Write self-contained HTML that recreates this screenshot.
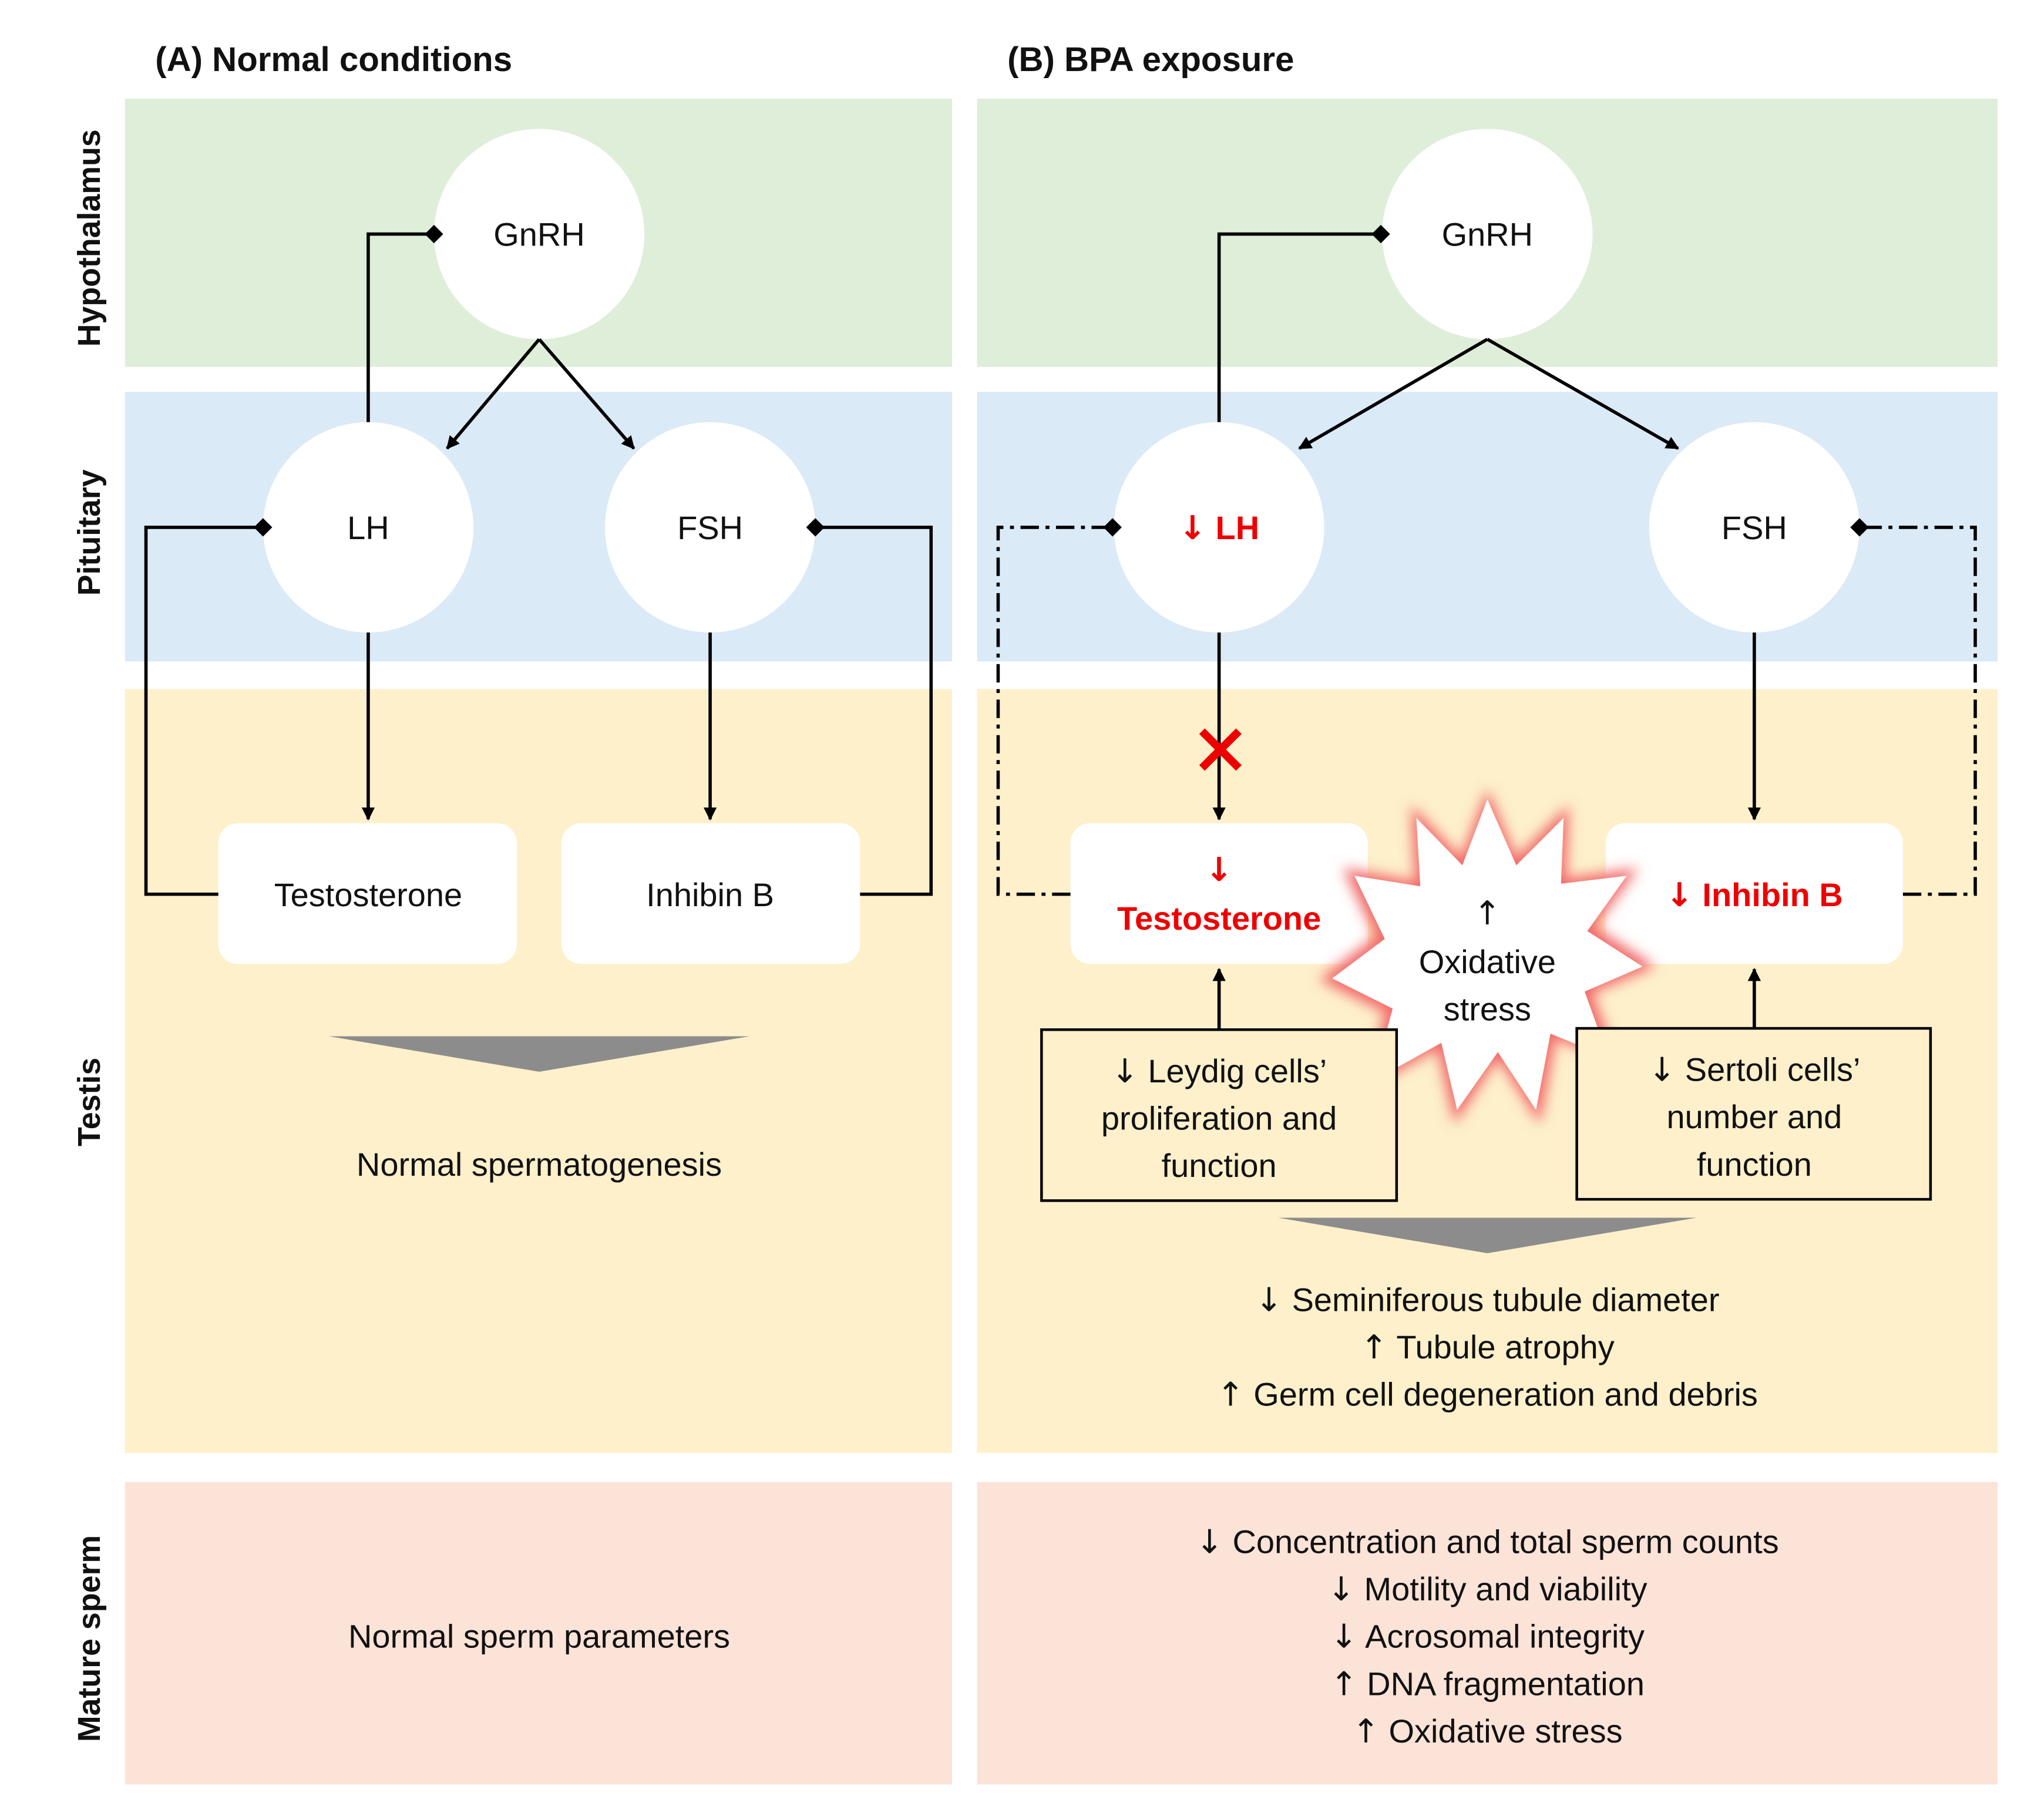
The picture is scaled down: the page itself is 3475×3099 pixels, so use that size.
<!DOCTYPE html>
<html><head><meta charset="utf-8"><style>
html,body{margin:0;padding:0;background:#fff}
svg{display:block}
text{font-family:"Liberation Sans",sans-serif;fill:#111}
.a{font-family:"DejaVu Sans",sans-serif}
</style></head><body>
<svg width="3475" height="3099" viewBox="0 0 1552 1384" preserveAspectRatio="none" xmlns="http://www.w3.org/2000/svg">
<defs>
<marker id="ah" markerWidth="10" markerHeight="10" refX="9" refY="5" orient="auto" markerUnits="userSpaceOnUse"><path d="M0,0 L10,5 L0,10 z" fill="#000"/></marker>
<marker id="dm" markerWidth="14" markerHeight="14" refX="7" refY="7" orient="auto" markerUnits="userSpaceOnUse"><path d="M0,7 L7,0 L14,7 L7,14 z" fill="#000"/></marker>
<filter id="glow" x="-30%" y="-30%" width="160%" height="160%"><feGaussianBlur stdDeviation="5"/></filter>
</defs>
<text x="118" y="54" font-size="26" font-weight="bold">(A) Normal conditions</text>
<text x="766" y="54" font-size="26" font-weight="bold">(B) BPA exposure</text>
<rect x="95" y="75" width="629" height="204" fill="#dfeed9"/>
<rect x="743" y="75" width="776" height="204" fill="#dfeed9"/>
<rect x="95" y="298" width="629" height="205" fill="#daeaf7"/>
<rect x="743" y="298" width="776" height="205" fill="#daeaf7"/>
<rect x="95" y="524" width="629" height="581" fill="#fdf0cb"/>
<rect x="743" y="524" width="776" height="581" fill="#fdf0cb"/>
<rect x="95" y="1127" width="629" height="230" fill="#fce3d7"/>
<rect x="743" y="1127" width="776" height="230" fill="#fce3d7"/>
<g font-size="24" font-weight="bold" text-anchor="middle">
<text transform="translate(76,181) rotate(-90)">Hypothalamus</text>
<text transform="translate(76,405) rotate(-90)">Pituitary</text>
<text transform="translate(76,838) rotate(-90)">Testis</text>
<text transform="translate(76,1246) rotate(-90)">Mature sperm</text>
</g>
<g fill="#fff">
<circle cx="410" cy="178" r="80"/><circle cx="280" cy="401" r="80"/><circle cx="540" cy="401" r="80"/>
<circle cx="1131" cy="178" r="80"/><circle cx="927" cy="401" r="80"/><circle cx="1334" cy="401" r="80"/>
<rect x="166" y="626" width="227" height="107" rx="15"/>
<rect x="427" y="626" width="227" height="107" rx="15"/>
<rect x="814" y="626" width="226" height="107" rx="15"/>
<rect x="1221" y="626" width="226" height="107" rx="15"/>
</g>
<g stroke="#000" stroke-width="2.5" fill="none">
<polyline points="280,321 280,178 330,178" marker-end="url(#dm)"/>
<line x1="410" y1="258" x2="340" y2="341" marker-end="url(#ah)"/>
<line x1="410" y1="258" x2="482" y2="341" marker-end="url(#ah)"/>
<line x1="280" y1="481" x2="280" y2="623" marker-end="url(#ah)"/>
<line x1="540" y1="481" x2="540" y2="623" marker-end="url(#ah)"/>
<polyline points="166,680 111,680 111,401 200,401" marker-end="url(#dm)"/>
<polyline points="654,680 708,680 708,401 620,401" marker-end="url(#dm)"/>
<polyline points="927,321 927,178 1050,178" marker-end="url(#dm)"/>
<line x1="1131" y1="258" x2="988" y2="341" marker-end="url(#ah)"/>
<line x1="1131" y1="258" x2="1276" y2="341" marker-end="url(#ah)"/>
<line x1="927" y1="481" x2="927" y2="623" marker-end="url(#ah)"/>
<line x1="1334" y1="481" x2="1334" y2="623" marker-end="url(#ah)"/>
<polyline points="814,680 759,680 759,401 846,401" stroke-dasharray="14,5,3,5" marker-end="url(#dm)"/>
<polyline points="1447,680 1502,680 1502,401 1414,401" stroke-dasharray="14,5,3,5" marker-end="url(#dm)"/>
<line x1="927" y1="783" x2="927" y2="737" marker-end="url(#ah)"/>
<line x1="1334" y1="782" x2="1334" y2="737" marker-end="url(#ah)"/>
</g>
<g stroke="#e00" stroke-width="6"><line x1="914" y1="556" x2="942" y2="584"/><line x1="942" y1="556" x2="914" y2="584"/></g>
<g transform="translate(1131,730)">
<polygon points="0,-130 22,-78 62,-118 60,-62 115,-70 82,-25 128,5 80,25 100,80 52,60 40,125 8,75 -25,125 -38,68 -95,100 -78,40 -128,15 -85,-18 -110,-70 -55,-60 -58,-118 -20,-78" fill="#f26a6a" filter="url(#glow)"/>
<polygon points="0,-122 22,-72 58,-108 56,-58 106,-64 76,-22 118,5 74,24 92,74 48,56 37,114 8,70 -23,114 -35,63 -87,92 -72,37 -118,14 -78,-16 -101,-64 -51,-56 -54,-108 -19,-72" fill="#fff"/>
</g>
<rect x="792" y="783" width="270" height="130" fill="#fdf0cb" stroke="#000" stroke-width="2"/>
<rect x="1199" y="782" width="269" height="130" fill="#fdf0cb" stroke="#000" stroke-width="2"/>
<polygon points="250,788 570,788 410,815" fill="#8c8c8c"/>
<polygon points="972,926 1290,926 1131,953" fill="#8c8c8c"/>
<g font-size="25" text-anchor="middle">
<text x="410" y="187">GnRH</text><text x="280" y="410">LH</text><text x="540" y="410">FSH</text>
<text x="280" y="689">Testosterone</text><text x="540" y="689">Inhibin B</text>
<text x="410" y="894">Normal spermatogenesis</text>
<text x="410" y="1253">Normal sperm parameters</text>
<text x="1131" y="187">GnRH</text><text x="1334" y="410">FSH</text>
<text x="927" y="410" font-weight="bold" style="fill:#e00"><tspan class="a">↓</tspan> LH</text>
<text x="927" y="670" font-weight="bold" style="fill:#e00" class="a">↓</text>
<text x="927" y="707" font-weight="bold" style="fill:#e00">Testosterone</text>
<text x="1334" y="689" font-weight="bold" style="fill:#e00"><tspan class="a">↓</tspan> Inhibin B</text>
<text x="1131" y="703" class="a">↑</text><text x="1131" y="740">Oxidative</text><text x="1131" y="776">stress</text>
<text x="927" y="823"><tspan class="a">↓</tspan> Leydig cells’</text><text x="927" y="859">proliferation and</text><text x="927" y="895">function</text>
<text x="1334" y="822"><tspan class="a">↓</tspan> Sertoli cells’</text><text x="1334" y="858">number and</text><text x="1334" y="894">function</text>
<text x="1131" y="997"><tspan class="a">↓</tspan> Seminiferous tubule diameter</text>
<text x="1131" y="1033"><tspan class="a">↑</tspan> Tubule atrophy</text>
<text x="1131" y="1069"><tspan class="a">↑</tspan> Germ cell degeneration and debris</text>
<text x="1131" y="1181"><tspan class="a">↓</tspan> Concentration and total sperm counts</text>
<text x="1131" y="1217"><tspan class="a">↓</tspan> Motility and viability</text>
<text x="1131" y="1253"><tspan class="a">↓</tspan> Acrosomal integrity</text>
<text x="1131" y="1289"><tspan class="a">↑</tspan> DNA fragmentation</text>
<text x="1131" y="1325"><tspan class="a">↑</tspan> Oxidative stress</text>
</g>
</svg>
</body></html>
